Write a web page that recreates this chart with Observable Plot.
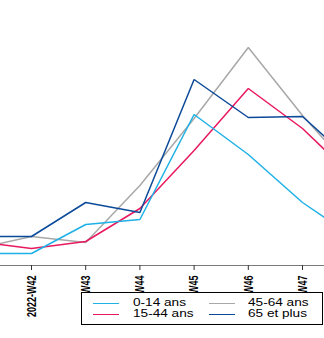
<!DOCTYPE html>
<html><head><meta charset="utf-8">
<script src="https://cdn.jsdelivr.net/npm/d3@7"></script>
<script src="https://cdn.jsdelivr.net/npm/@observablehq/plot@0.6"></script>
<style>
body{margin:0;background:#fff;}
#wrap{position:relative;width:324px;height:338px;overflow:hidden;}
.legend{position:absolute;left:81px;top:292px;width:242px;height:33px;border:1px solid #000;background:#fff;box-sizing:border-box;font-family:"Liberation Sans",Arial,sans-serif;font-size:10px;color:#000;}
.sw{position:absolute;width:26px;height:0;border-top:1.2px solid;}
.lab{position:absolute;white-space:nowrap;line-height:10px;transform:scaleX(1.36);transform-origin:0 50%;}
</style></head>
<body><div id="wrap"></div>
<script>
const weeks = [41, 42, 43, 44, 45, 46, 47, 48];
const tickWeeks = [42, 43, 44, 45, 46, 47];
const tickLabels = ["2022-W42", "W43", "W44", "W45", "W46", "W47"];
const seriesNames = ["0-14 ans", "15-44 ans", "45-64 ans", "65 et plus"];
const seriesColors = ["#1fb1e6", "#e8185f", "#a8a8a8", "#0b4a99"];
const age0_14   = [12, 12, 41, 46, 151, 111, 63, 26];
const age15_44  = [24, 17, 24, 57, 115, 177, 137, 85];
const age45_64  = [17, 29, 23, 80, 147, 218, 150, 90];
const age65plus = [29, 29, 63, 53, 186, 148, 149, 100];

const allSeries = [age0_14, age15_44, age45_64, age65plus];
const rows = [];
allSeries.forEach((vals, s) => vals.forEach((v, i) => rows.push({week: weeks[i], value: v, group: seriesNames[s]})));
const drawOrder = [2, 1, 0, 3];

const chart = Plot.plot({
  width: 324, height: 338,
  marginLeft: 0, marginRight: 0, marginTop: 0, marginBottom: 73,
  style: {fontFamily: "'Liberation Sans', Arial, sans-serif", background: "#fff"},
  x: {type: "linear", domain: [42, 47], range: [31, 302], axis: null, label: null},
  y: {domain: [0, 265], axis: null, label: null},
  color: {domain: seriesNames, range: seriesColors},
  marks: [
    ...drawOrder.map(s => Plot.line(rows.filter(r => r.group === seriesNames[s]), {
      x: "week", y: "value", stroke: "group", strokeWidth: 1.5, clip: true, strokeLinejoin: "miter"
    })),
    Plot.ruleY([0], {stroke: "#7a7a7a", strokeWidth: 1}),
    Plot.axisX(tickWeeks, {
      tickSize: 5, tickPadding: 5, tickRotate: -90, stroke: "#333", label: null,
      tickFormat: (d) => tickLabels[tickWeeks.indexOf(d)],
      fontSize: 9, fontWeight: "bold", fill: "#000"
    })
  ]
});
document.getElementById("wrap").appendChild(chart);

// stretch tick labels across (glyph height) to mimic reference
d3.select(chart).selectAll('g[aria-label="x-axis tick label"] text').each(function() {
  const t = this.getAttribute("transform") || "";
  this.setAttribute("transform", t + " scale(1,1.5)");
});

// legend
const lg = document.createElement("div");
lg.className = "legend";
seriesNames.forEach((name, i) => {
  const col = Math.floor(i / 2), row = i % 2;
  const sw = document.createElement("div");
  sw.className = "sw";
  sw.style.left = (col ? 127 : 11) + "px";
  sw.style.top = (row ? 21 : 10) + "px";
  sw.style.borderTopColor = seriesColors[i];
  lg.appendChild(sw);
  const lb = document.createElement("div");
  lb.className = "lab";
  lb.textContent = name;
  lb.style.left = (col ? 166 : 51) + "px";
  lb.style.top = (row ? 16 : 5) + "px";
  lg.appendChild(lb);
});
document.getElementById("wrap").appendChild(lg);
</script></body></html>
